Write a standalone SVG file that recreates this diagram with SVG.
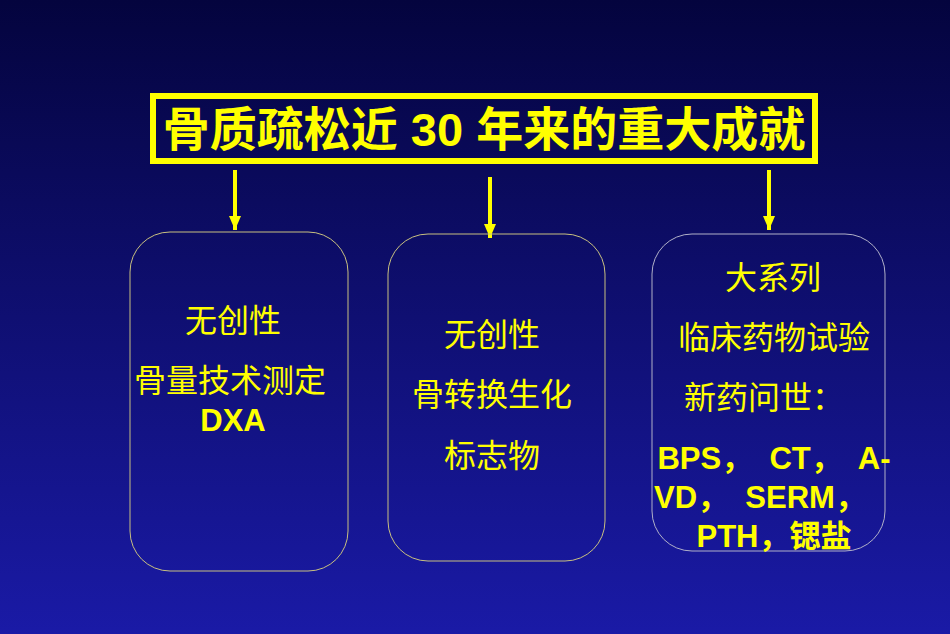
<svg xmlns="http://www.w3.org/2000/svg" width="950" height="634" viewBox="0 0 950 634">
<defs>
<linearGradient id="bg" x1="0" y1="0" x2="0" y2="1"><stop offset="0" stop-color="#04043e"/><stop offset="1" stop-color="#1a1aa6"/></linearGradient>
<marker id="ah" markerWidth="14" markerHeight="12" refX="14" refY="6" orient="auto" markerUnits="userSpaceOnUse"><path d="M0,0 L14,6 L0,12 Z" fill="#ffff00"/></marker>
<style>
text{font-family:"Liberation Sans","Noto Sans CJK SC",sans-serif;fill:#ffff00;text-anchor:middle}
.t{font-size:32px}
.b{font-size:31px;font-weight:bold}
.box{fill:none;stroke:#c8c080;stroke-width:1}
.c{stroke:#ffff00;stroke-width:4;fill:none}
</style>
</defs>
<rect width="950" height="634" fill="url(#bg)"/>
<g id="title"><rect x="153" y="96" width="662" height="65" fill="none" stroke="#ffff00" stroke-width="6"/>
<text x="484" y="146" style="font-size:47px;font-weight:bold">骨质疏松近 30 年来的重大成就</text></g>
<g id="connectors">
<line class="c" x1="235" y1="170" x2="235" y2="230" marker-end="url(#ah)"/>
<line class="c" x1="490" y1="177" x2="490" y2="238" marker-end="url(#ah)"/>
<line class="c" x1="769" y1="170" x2="769" y2="230" marker-end="url(#ah)"/>
</g>
<g id="n1"><rect class="box" x="130" y="232" width="218" height="339" rx="40"/>
<text class="t" x="233" y="332">无创性</text><text class="t" x="230" y="392">骨量技术测定</text><text class="b" x="233" y="431">DXA</text></g>
<g id="n2"><rect class="box" x="388" y="234" width="217" height="327" rx="40"/>
<text class="t" x="492" y="346">无创性</text><text class="t" x="492" y="406">骨转换生化</text><text class="t" x="492" y="467">标志物</text></g>
<g id="n3"><rect class="box" x="652" y="234" width="233" height="317" rx="40" style="stroke:#b0b0c8"/>
<text class="t" x="773" y="289">大系列</text><text class="t" x="774" y="349">临床药物试验</text><text class="t" x="764" y="409">新药问世：</text>
<text class="b" x="774" y="469" xml:space="preserve">BPS，  CT，  A-</text>
<text class="b" x="760" y="508" xml:space="preserve">VD，  SERM，</text>
<text class="b" x="774" y="547">PTH，锶盐</text></g>
</svg>
